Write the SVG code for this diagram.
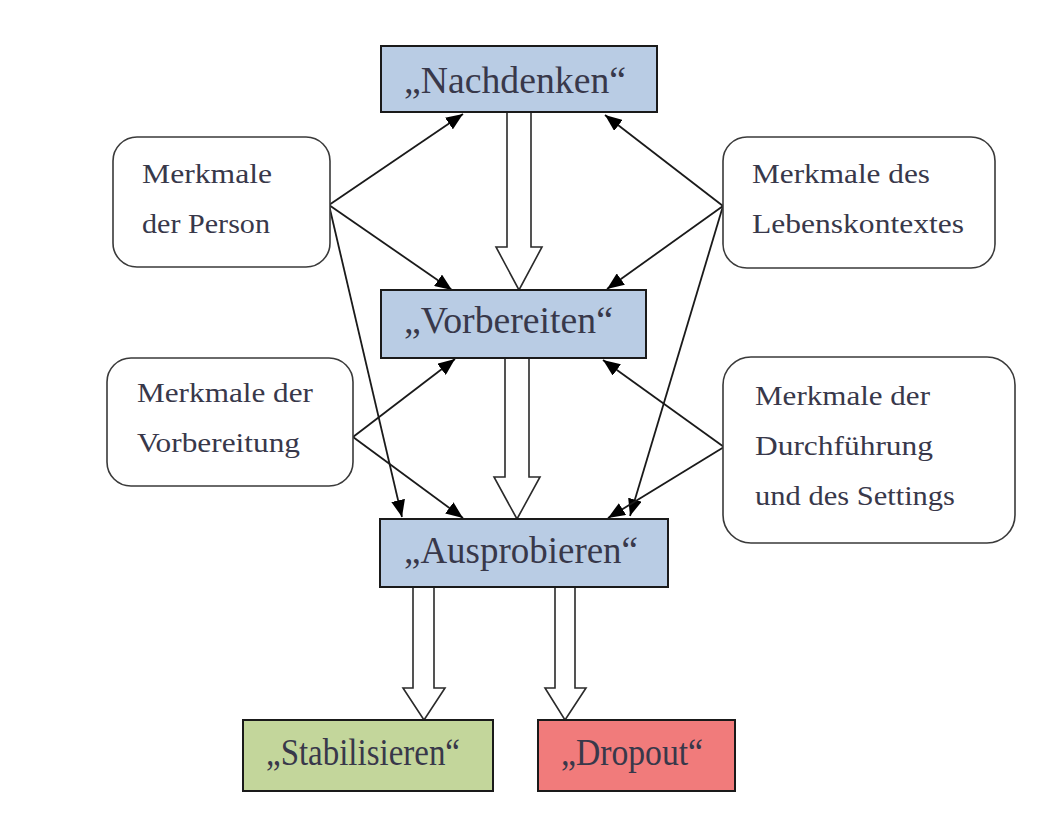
<svg xmlns="http://www.w3.org/2000/svg" width="1055" height="815" viewBox="0 0 1055 815">
<defs>
<style>
.stage{stroke:#1a1a1a;stroke-width:2}
.blue{fill:#b9cce4}
.green{fill:#c3d69b}
.red{fill:#f17b7b}
.feat{fill:#fff;stroke:#3a3a3a;stroke-width:1.6}
.big{font-family:"Liberation Serif",serif;font-size:37px;fill:#38384a}
.small{font-family:"Liberation Serif",serif;font-size:27px;fill:#38384a}
.line{stroke:#1a1a1a;stroke-width:1.8;fill:none;marker-end:url(#ah)}
.block{fill:#fff;stroke:#2a2a2a;stroke-width:1.6;stroke-linejoin:miter}
</style>
<marker id="ah" viewBox="0 0 17 14" refX="17" refY="7" markerWidth="17" markerHeight="14" markerUnits="userSpaceOnUse" orient="auto">
<path d="M0,0 L17,7 L0,14 Z" fill="#000"/>
</marker>
</defs>
<rect width="1055" height="815" fill="#fff"/>

<g id="connectors">
<line class="line" x1="329" y1="205" x2="463" y2="114"/>
<line class="line" x1="329" y1="205" x2="452" y2="290"/>
<line class="line" x1="329" y1="205" x2="402" y2="517"/>
<line class="line" x1="723" y1="206" x2="605" y2="115"/>
<line class="line" x1="723" y1="206" x2="607" y2="289"/>
<line class="line" x1="723" y1="206" x2="630" y2="516"/>
<line class="line" x1="353" y1="437" x2="455" y2="359"/>
<line class="line" x1="353" y1="437" x2="463" y2="518"/>
<line class="line" x1="724" y1="447" x2="603" y2="360"/>
<line class="line" x1="724" y1="447" x2="608" y2="518"/>
<path class="block" d="M507,112 L507,247 L496,247 L519,290 L542,247 L531,247 L531,112"/>
<path class="block" d="M505,358 L505,477 L494,477 L517,519 L540,477 L529,477 L529,358"/>
<path class="block" d="M413,587 L413,688 L403,688 L424,720 L445,688 L434,688 L434,587"/>
<path class="block" d="M555,587 L555,688 L545,688 L565,720 L586,688 L575,688 L575,587"/>
</g>

<g id="nachdenken">
<rect class="stage blue" x="381" y="46" width="276" height="66"/>
<text class="big" x="404" y="93" textLength="222" lengthAdjust="spacingAndGlyphs">„Nachdenken“</text>
</g>
<g id="vorbereiten">
<rect class="stage blue" x="381" y="290" width="265" height="68"/>
<text class="big" x="404" y="333" textLength="209" lengthAdjust="spacingAndGlyphs">„Vorbereiten“</text>
</g>
<g id="ausprobieren">
<rect class="stage blue" x="380" y="519" width="288" height="68"/>
<text class="big" x="404" y="563" textLength="234" lengthAdjust="spacingAndGlyphs">„Ausprobieren“</text>
</g>
<g id="stabilisieren">
<rect class="stage green" x="243" y="720" width="250" height="71"/>
<text class="big" x="266" y="765" textLength="194" lengthAdjust="spacingAndGlyphs">„Stabilisieren“</text>
</g>
<g id="dropout">
<rect class="stage red" x="538" y="720" width="197" height="71"/>
<text class="big" x="561" y="765" textLength="142" lengthAdjust="spacingAndGlyphs">„Dropout“</text>
</g>

<g id="person">
<rect class="feat" x="113" y="137" width="217" height="130" rx="24"/>
<text class="small" x="142" y="183" textLength="130" lengthAdjust="spacingAndGlyphs">Merkmale</text>
<text class="small" x="142" y="233" textLength="128" lengthAdjust="spacingAndGlyphs">der Person</text>
</g>
<g id="lebenskontext">
<rect class="feat" x="723" y="137" width="272" height="131" rx="24"/>
<text class="small" x="752" y="183" textLength="178" lengthAdjust="spacingAndGlyphs">Merkmale des</text>
<text class="small" x="752" y="233" textLength="212" lengthAdjust="spacingAndGlyphs">Lebenskontextes</text>
</g>
<g id="vorbereitung">
<rect class="feat" x="107" y="358" width="246" height="128" rx="24"/>
<text class="small" x="137" y="402" textLength="176" lengthAdjust="spacingAndGlyphs">Merkmale der</text>
<text class="small" x="137" y="452" textLength="163" lengthAdjust="spacingAndGlyphs">Vorbereitung</text>
</g>
<g id="durchfuehrung">
<rect class="feat" x="723" y="357" width="292" height="186" rx="28"/>
<text class="small" x="755" y="405" textLength="175" lengthAdjust="spacingAndGlyphs">Merkmale der</text>
<text class="small" x="755" y="455" textLength="178" lengthAdjust="spacingAndGlyphs">Durchführung</text>
<text class="small" x="755" y="505" textLength="200" lengthAdjust="spacingAndGlyphs">und des Settings</text>
</g>
</svg>
